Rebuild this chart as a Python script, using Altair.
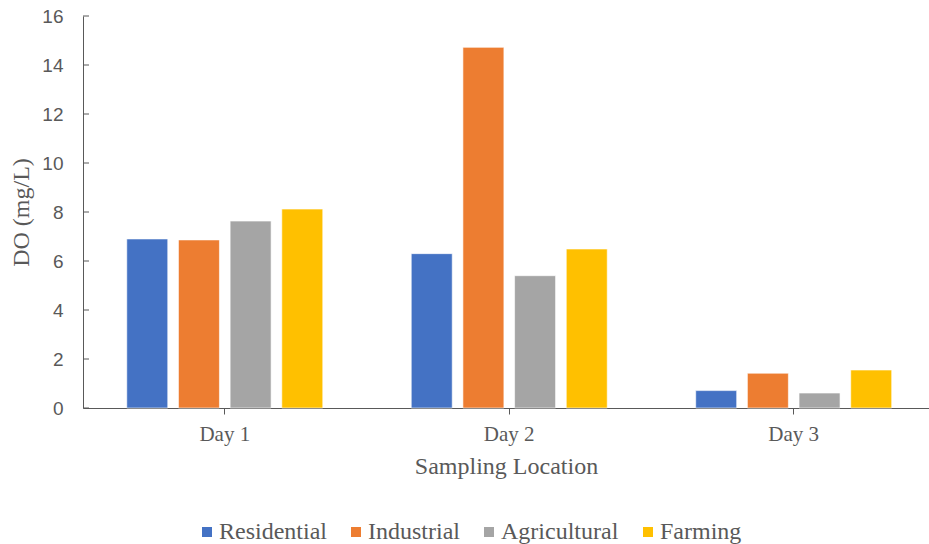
import altair as alt
import pandas as pd

days = ["Day 1", "Day 2", "Day 3"]
sites = ["Residential", "Industrial", "Agricultural", "Farming"]
colors = ["#4472C4", "#ED7D31", "#A5A5A5", "#FFC000"]

residential = [6.9, 6.3, 0.71]
industrial = [6.86, 14.72, 1.42]
agricultural = [7.63, 5.40, 0.61]
farming = [8.12, 6.49, 1.55]

y_ticks = [0, 2, 4, 6, 8, 10, 12, 14, 16]

rows = []
for site, vals in zip(sites, [residential, industrial, agricultural, farming]):
    for d, v in zip(days, vals):
        rows.append({"day": d, "site": site, "do": v})
df = pd.DataFrame(rows)
ticks_df = pd.DataFrame({"t": y_ticks})

SERIF = "Liberation Serif"
SANS = "Liberation Sans"
GREY = "#595959"

y_scale = alt.Scale(domain=[0, 16], nice=False)

bars = alt.Chart(df).mark_bar(stroke="white", strokeWidth=0.6).encode(
    x=alt.X(
        "day:N",
        sort=days,
        scale=alt.Scale(paddingInner=0.311, paddingOuter=0.1425, align=0.54),
        axis=alt.Axis(
            title="Sampling Location",
            labelAngle=0,
            labelFont=SERIF,
            labelFontSize=21,
            labelColor=GREY,
            labelPadding=9,
            titleFont=SERIF,
            titleFontSize=24,
            titleFontWeight="normal",
            titleColor=GREY,
            titlePadding=10,
            domainColor=GREY,
            tickColor=GREY,
            tickSize=6,
            grid=False,
        ),
    ),
    xOffset=alt.XOffset(
        "site:N", sort=sites, scale=alt.Scale(paddingInner=0.207, paddingOuter=0)
    ),
    y=alt.Y(
        "do:Q",
        scale=y_scale,
        axis=alt.Axis(
            title="DO (mg/L)",
            values=y_ticks,
            labelFont=SANS,
            labelFontSize=19,
            labelColor=GREY,
            labelPadding=20,
            ticks=False,
            titleFont=SERIF,
            titleFontSize=24,
            titleFontWeight="normal",
            titleColor=GREY,
            titlePadding=8,
            domainColor=GREY,
            grid=False,
        ),
    ),
    color=alt.Color(
        "site:N",
        sort=sites,
        scale=alt.Scale(domain=sites, range=colors),
        legend=alt.Legend(
            title=None,
            orient="none",
            direction="horizontal",
            legendX=112,
            legendY=504,
            symbolType="square",
            symbolSize=100,
            symbolStrokeWidth=0,
            labelFont=SERIF,
            labelFontSize=24,
            labelColor=GREY,
            labelOffset=0,
            columnPadding=17,
        ),
    ),
)

# short inward tick marks on the value axis
ticks = alt.Chart(ticks_df).mark_rule(color=GREY, strokeWidth=1).encode(
    y=alt.Y("t:Q", scale=y_scale),
    x=alt.value(0),
    x2=alt.value(6),
)

chart = (
    alt.layer(bars, ticks)
    .properties(
        width=846,
        height=392,
        autosize=alt.AutoSizeParams(type="none"),
        padding={"left": 83, "top": 16, "right": 0, "bottom": 136},
        background="white",
    )
    .configure(font=SERIF)
    .configure_view(stroke=None)
    .configure_legend(labelFont=SERIF, labelFontSize=24, labelColor=GREY)
)

chart.save("out.html", embed_options={"renderer": "svg", "actions": False})
